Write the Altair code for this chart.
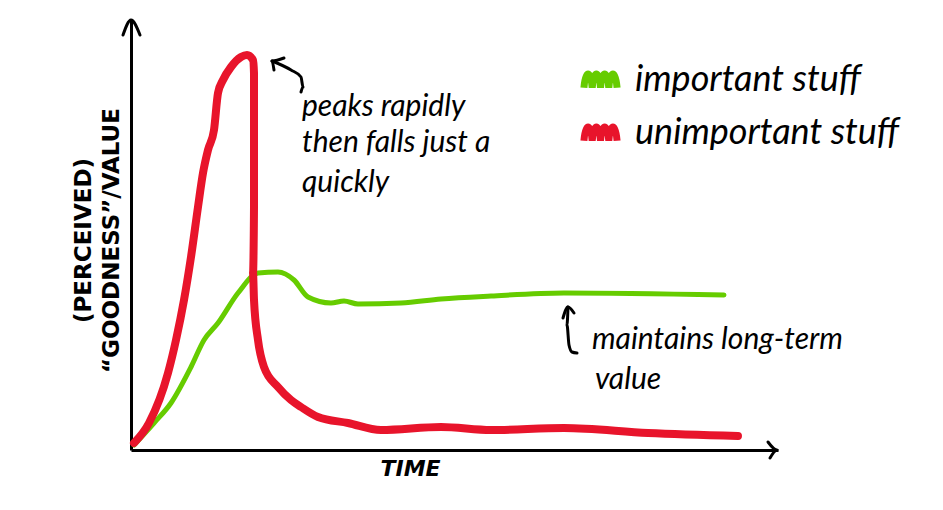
import altair as alt
import pandas as pd

# Curves (time, value), in plot units
red_t = [3, 18, 37, 45, 53, 60, 67, 72, 77, 83, 87, 92, 100, 110, 116, 122, 123, 123, 123, 122, 123, 127, 133, 147, 160, 170, 187, 217, 250, 310, 360, 433, 517, 607]
red_v = [7, 27, 77, 110, 150, 193, 243, 277, 300, 320, 357, 370, 383, 393, 395, 390, 377, 310, 243, 177, 150, 110, 83, 63, 50, 43, 33, 27, 20, 23, 20, 22, 17, 14]
green_t = [3, 23, 40, 60, 73, 87, 107, 127, 147, 163, 177, 200, 213, 227, 270, 310, 360, 433, 593]
green_v = [5, 27, 47, 83, 110, 127, 157, 177, 178, 170, 153, 147, 149, 146, 147, 151, 154, 157, 155]
series = ["important stuff", "unimportant stuff"]
colors = ["#66CC00", "#E8142B"]

# annotation texts
ann_text = ["peaks rapidly", "then falls just a", "quickly", "maintains long-term", "value"]
ann_x = [171, 171, 171, 461, 464]
ann_y = [343, 307, 267, 110, 70]

# annotation arrows (hand-drawn strokes)
arrows = {
    "peak_shaft": ([141, 160, 170, 172, 170], [389, 380, 373, 363, 358]),
    "peak_head": ([153, 141, 143], [392, 389, 380]),
    "keep_shaft": ([437, 436, 438, 441, 446], [143, 125, 105, 98, 97]),
    "keep_head": ([432, 437, 443], [132, 143, 137]),
    "yaxis_head": ([-8, 0, 9], [415, 430, 415]),
    "xaxis_head": ([637, 646, 639], [8, 0, -8]),
}

rows = []
for i, (t, v) in enumerate(zip(green_t, green_v)):
    rows.append({"t": t, "v": v, "s": series[0], "i": i})
for i, (t, v) in enumerate(zip(red_t, red_v)):
    rows.append({"t": t, "v": v, "s": series[1], "i": i})
curves = pd.DataFrame(rows)

arows = []
for k, (xs_, ys_) in arrows.items():
    for i, (x, y) in enumerate(zip(xs_, ys_)):
        arows.append({"x": x, "y": y, "k": k, "i": i})
arr_df = pd.DataFrame(arows)
txt_df = pd.DataFrame({"x": ann_x, "y": ann_y, "text": ann_text})

xs = alt.Scale(domain=[0, 647], nice=False, zero=False)
ys = alt.Scale(domain=[0, 430], nice=False, zero=False)

squiggle = "M-1,0.5 C-0.9,-0.6 -0.6,-0.6 -0.5,0.5 C-0.4,-0.6 -0.1,-0.6 0,0.5 C0.1,-0.6 0.4,-0.6 0.5,0.5 C0.6,-0.6 0.9,-0.6 1,0.5"

lines = alt.Chart(curves).mark_line(strokeCap="round", strokeJoin="round", interpolate="monotone").encode(
    x=alt.X("t:Q", scale=xs, axis=alt.Axis(title="TIME", domain=True, ticks=False, labels=False, grid=False,
                                             domainWidth=3, domainColor="black",
                                             titleFont="DejaVu Sans", titleFontWeight="bold", titleFontStyle="italic",
                                             titleFontSize=22, titleX=279, titleY=18, titleAnchor="start",
                                             titleAlign="center", titleBaseline="middle")),
    y=alt.Y("v:Q", scale=ys, axis=alt.Axis(title=["(PERCEIVED)", "\u201cGOODNESS\u201d/VALUE"], domain=True,
                                             ticks=False, labels=False, grid=False,
                                             domainWidth=3, domainColor="black",
                                             titleFont="DejaVu Sans", titleFontWeight="bold",
                                             titleFontSize=23, titleLineHeight=28, titleX=-48, titleY=220,
                                             titleAngle=270, titleAlign="center", titleBaseline="middle")),
    color=alt.Color("s:N", scale=alt.Scale(domain=series, range=colors),
                    legend=alt.Legend(title=None, orient="none", legendX=449, legendY=39,
                                      symbolType=squiggle, symbolSize=1100, symbolStrokeWidth=7,
                                      labelFont="Lato", labelFontStyle="italic", labelFontSize=36,
                                      labelColor="black", labelOffset=14, rowPadding=10, padding=0,
                                      labelLimit=400)),
    strokeWidth=alt.StrokeWidth("s:N", scale=alt.Scale(domain=series, range=[5, 8]), legend=None),
    order="i:Q",
    detail="s:N",
)

arrow_marks = alt.Chart(arr_df).mark_line(color="black", strokeWidth=3, strokeCap="round",
                                          strokeJoin="round", interpolate="monotone").encode(
    x=alt.X("x:Q", scale=xs), y=alt.Y("y:Q", scale=ys), detail="k:N", order="i:Q"
)

texts = alt.Chart(txt_df).mark_text(align="left", baseline="middle", font="Lato", fontStyle="italic",
                                    fontSize=30, color="black").encode(
    x=alt.X("x:Q", scale=xs), y=alt.Y("y:Q", scale=ys), text="text:N"
)

chart = alt.layer(lines, arrow_marks, texts).properties(
    width=647, height=430,
    autosize=alt.AutoSizeParams(type="none"),
    padding={"left": 123, "top": 12, "right": 155, "bottom": 40},
).configure_view(stroke=None).resolve_scale(color="independent")

chart.save("out.html", embed_options={"renderer": "svg", "actions": False})
